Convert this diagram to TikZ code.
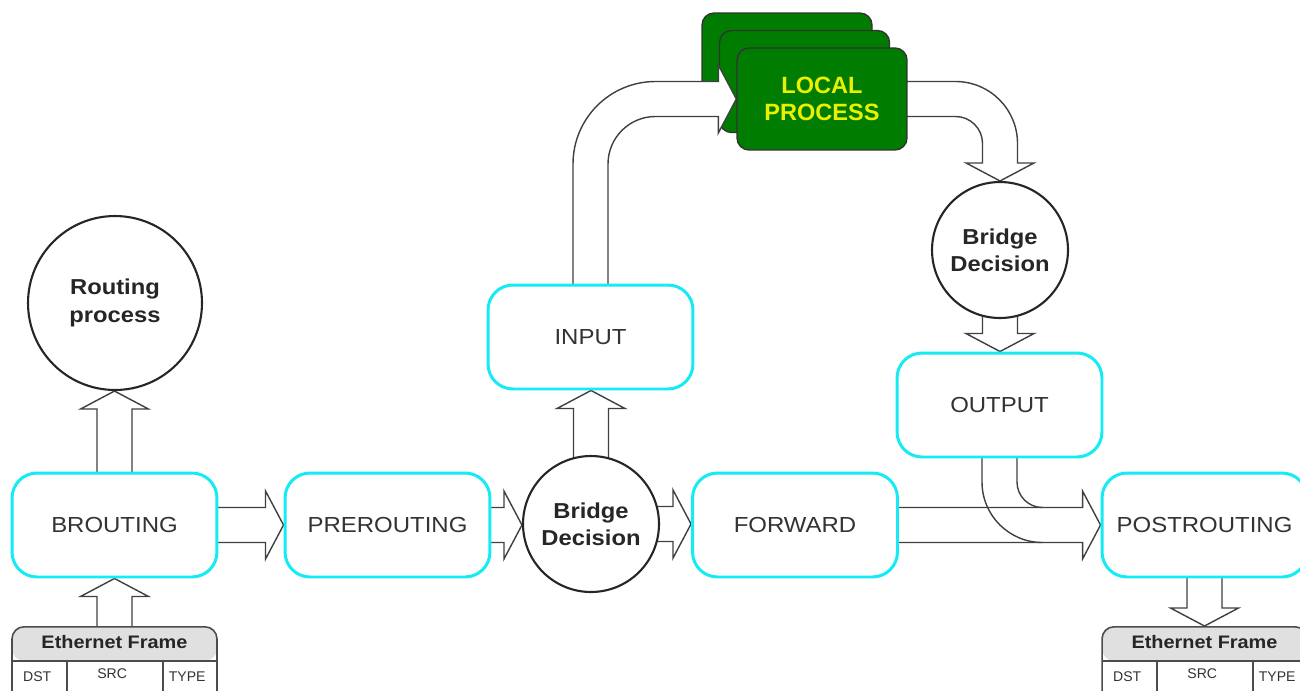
\documentclass[tikz,border=0pt]{standalone}
\usepackage{fontspec}
\setmainfont{Liberation Sans}
\newfontfamily\hookfont{Liberation Sans}[FakeStretch=1.1]
\usetikzlibrary{calc,positioning}
\definecolor{hookcyan}{RGB}{20,235,245}
\definecolor{procgreen}{RGB}{0,125,0}
\definecolor{procyellow}{RGB}{235,240,0}
\definecolor{framegray}{RGB}{224,224,224}
\pgfdeclarelayer{stack}
\pgfdeclarelayer{flow}
\pgfsetlayers{stack,flow,main}
\newcommand\flowshaft{0.35cm}
\newcommand\flowheadw{0.68cm}
\newcommand\flowheadl{0.36cm}
% hollow block arrow, tail node to tip node, pointing right
\newcommand\flowright[2]{\path[flowarrow] let \p1=(#1), \p2=(#2) in
  (\x1,{\y1+\flowshaft}) -- ({\x2-\flowheadl},{\y1+\flowshaft}) -- ({\x2-\flowheadl},{\y1+\flowheadw})
  -- (\x2,\y1) -- ({\x2-\flowheadl},{\y1-\flowheadw}) -- ({\x2-\flowheadl},{\y1-\flowshaft}) -- (\x1,{\y1-\flowshaft});}
% same, vertical: #3 is - (up) or + (down)
\newcommand\flowvert[3]{\path[flowarrow] let \p1=(#1), \p2=(#2) in
  ({\x1-\flowshaft},\y1) -- ({\x1-\flowshaft},{\y2#3\flowheadl}) -- ({\x1-\flowheadw},{\y2#3\flowheadl})
  -- (\x1,\y2) -- ({\x1+\flowheadw},{\y2#3\flowheadl}) -- ({\x1+\flowshaft},{\y2#3\flowheadl}) -- ({\x1+\flowshaft},\y1);}
\tikzset{
  hook/.style={draw=hookcyan, fill=white, rounded corners=0.5cm, line width=1.7pt,
    minimum width=4.1cm, minimum height=2.08cm, text=black!80, font=\hookfont\fontsize{12.4}{15}\selectfont},
  decision/.style={circle, draw=black!85, fill=white, line width=1.2pt, minimum size=2.72cm, inner sep=0pt,
    align=center, text=black!85, font=\hookfont\bfseries\fontsize{12.3}{15.5}\selectfont},
  localproc/.style={draw=black!80, fill=procgreen, rounded corners=0.24cm, line width=0.8pt,
    minimum width=3.4cm, minimum height=2.04cm, align=center, text=procyellow,
    font=\bfseries\fontsize{13.4}{15.5}\selectfont},
  flowarrow/.style={draw=black!75, fill=white, line width=0.8pt},
  flowline/.style={draw=black!75, line width=0.8pt},
  frame/.style={draw=black!70, fill=white, line width=0.9pt, rounded corners=0.24cm, anchor=north,
    minimum width=4.1cm, minimum height=2cm, inner sep=0pt,
    path picture={
      \fill[framegray] (path picture bounding box.north west) rectangle ([yshift=-0.68cm]path picture bounding box.north east);
      \draw[black!70, line width=0.9pt] ([yshift=-0.68cm]path picture bounding box.north west) -- ([yshift=-0.68cm]path picture bounding box.north east);
      \draw[black!70, line width=0.9pt] ([xshift=1.1cm,yshift=-0.68cm]path picture bounding box.north west) -- ++(0,-2cm);
      \draw[black!70, line width=0.9pt] ([xshift=3.02cm,yshift=-0.68cm]path picture bounding box.north west) -- ++(0,-2cm);
    }},
  frametitle/.style={font=\hookfont\bfseries\fontsize{10.3}{12}\selectfont, text=black!85, inner sep=0pt},
  fieldlabel/.style={font=\fontsize{8}{9}\selectfont, text=black!80, inner sep=0pt}
}
\begin{document}
\begin{tikzpicture}[x=0.02cm, y=-0.02cm]
  \useasboundingbox (0,0) rectangle (1300,690);
  \clip (0,0) rectangle (1300,690);
  \node[hook] (brouting) at (114.5,525) {BROUTING};
  \node[hook] (prerouting) at (387.5,525) {PREROUTING};
  \node[decision] (bridgein) at (591,524) {Bridge\\Decision};
  \node[hook] (forward) at (795,525) {FORWARD};
  \node[hook] (postrouting) at (1204.5,525) {POSTROUTING};
  \node[hook] (input) at (590.5,337) {INPUT};
  \node[hook] (output) at (999.5,405) {OUTPUT};
  \node[decision, minimum size=3.48cm] (routing) at (115,303) {Routing\\process};
  \node[decision] (bridgeout) at (1000,250) {Bridge\\Decision};
  \node[localproc] (lp) at (822,99) {LOCAL\\PROCESS};
  \node[frame] (framein) at (114.5,626) {};
  \node[frame] (frameout) at (1204.5,626) {};
  \foreach \f in {framein,frameout} {
    \node[frametitle] (\f-title) at ([yshift=-0.32cm]\f.north) {Ethernet Frame};
    \node[fieldlabel] (\f-dst) at ([xshift=0.52cm,yshift=-1.02cm]\f.north west) {DST};
    \node[fieldlabel] (\f-src) at ([xshift=2.02cm,yshift=-0.96cm]\f.north west) {SRC};
    \node[fieldlabel] (\f-type) at ([xshift=3.52cm,yshift=-1.02cm]\f.north west) {TYPE};
  }
  % stacked copies behind the local process
  \begin{pgfonlayer}{stack}
    \node[localproc] (lpback) at ([shift={(-0.7cm,0.7cm)}]lp.center) {};
    \node[localproc] (lpmid) at ([shift={(-0.35cm,0.35cm)}]lp.center) {};
  \end{pgfonlayer}
  \begin{pgfonlayer}{flow}
    \flowvert{framein.north}{brouting.south}{-}
    \flowvert{brouting.center}{routing.south}{-}
    \flowright{brouting.center}{prerouting.west}
    \flowright{prerouting.center}{bridgein.west}
    \flowright{bridgein.center}{forward.west}
    \flowvert{bridgein.center}{input.south}{-}
    \flowright{forward.center}{postrouting.west}
    \flowvert{postrouting.center}{frameout.north}{+}
    \flowvert{bridgeout.center}{output.north}{+}
    % input up and round into the local process
    \path[flowarrow] let \p1=(input.center), \p2=(lp.west) in
      ({\x1-\flowshaft},\y1) -- ({\x1-\flowshaft},{\y2+\flowshaft-1.65cm})
      arc[start angle=180, end angle=90, radius=1.65cm]
      -- ({\x2-\flowheadl},{\y2+\flowshaft}) -- ({\x2-\flowheadl},{\y2+\flowheadw}) -- (\x2,\y2)
      -- ({\x2-\flowheadl},{\y2-\flowheadw}) -- ({\x2-\flowheadl},{\y2-\flowshaft})
      -- ({\x1+\flowshaft+0.95cm},{\y2-\flowshaft})
      arc[start angle=90, end angle=180, radius=0.95cm] -- ({\x1+\flowshaft},\y1);
    % local process round and down to the second decision
    \path[flowarrow] let \p1=(lp.center), \p2=(bridgeout.north) in
      (\x1,{\y1+\flowshaft}) -- ({\x2+\flowshaft-1.24cm},{\y1+\flowshaft})
      arc[start angle=90, end angle=0, radius=1.24cm]
      -- ({\x2+\flowshaft},{\y2+\flowheadl}) -- ({\x2+\flowheadw},{\y2+\flowheadl}) -- (\x2,\y2)
      -- ({\x2-\flowheadw},{\y2+\flowheadl}) -- ({\x2-\flowshaft},{\y2+\flowheadl})
      -- ({\x2-\flowshaft},{\y1-\flowshaft-0.54cm})
      arc[start angle=0, end angle=90, radius=0.54cm] -- (\x1,{\y1-\flowshaft});
    % output joins the forward arrow
    \draw[flowline] let \p1=(output.center), \p2=(postrouting.west) in
      ({\x1-\flowshaft},\y1) -- ({\x1-\flowshaft},{\y2-\flowshaft+1.21cm})
      arc[start angle=180, end angle=270, radius=1.21cm]
      ({\x1+\flowshaft},\y1) -- ({\x1+\flowshaft},{\y2+\flowshaft+0.51cm})
      arc[start angle=180, end angle=270, radius=0.51cm];
  \end{pgfonlayer}
\end{tikzpicture}
\end{document}
